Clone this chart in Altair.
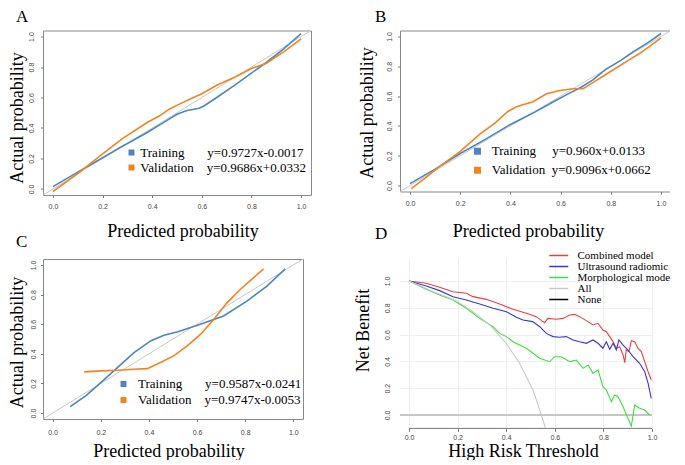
import altair as alt
import pandas as pd

# ---------------- data ----------------
ticks = [0.0, 0.2, 0.4, 0.6, 0.8, 1.0]
diag_vals = [-0.04, 1.04]

# Panel A
A_tr_x = [0.0, 0.1, 0.19, 0.28, 0.38, 0.45, 0.5, 0.54, 0.59, 0.61, 0.66, 0.73, 0.8, 0.86, 0.93, 1.0]
A_tr_y = [0.015, 0.11, 0.195, 0.28, 0.37, 0.44, 0.49, 0.515, 0.53, 0.546, 0.6, 0.678, 0.76, 0.83, 0.92, 1.02]
A_va_x = [0.0, 0.1, 0.19, 0.28, 0.38, 0.43, 0.47, 0.52, 0.56, 0.6, 0.66, 0.73, 0.8, 0.86, 0.93, 1.0]
A_va_y = [-0.017, 0.1, 0.217, 0.33, 0.436, 0.48, 0.525, 0.565, 0.595, 0.625, 0.68, 0.732, 0.79, 0.825, 0.9, 0.985]
A_eq = ["y=0.9727x-0.0017", "y=0.9686x+0.0332"]

# Panel B
B_tr_x = [0.0, 0.1, 0.2, 0.3, 0.4, 0.49, 0.57, 0.63, 0.68, 0.73, 0.78, 0.84, 0.89, 0.95, 1.0]
B_tr_y = [0.013, 0.11, 0.215, 0.31, 0.41, 0.486, 0.56, 0.615, 0.658, 0.71, 0.779, 0.84, 0.898, 0.96, 1.02]
B_va_x = [0.005, 0.06, 0.118, 0.198, 0.278, 0.34, 0.39, 0.424, 0.49, 0.544, 0.597, 0.65, 0.69, 0.73,
          0.78, 0.823, 0.87, 0.916, 0.96, 1.0]
B_va_y = [-0.02, 0.05, 0.128, 0.226, 0.345, 0.42, 0.497, 0.529, 0.562, 0.616, 0.638, 0.649, 0.649, 0.692,
          0.745, 0.79, 0.84, 0.887, 0.94, 0.99]
B_eq = ["y=0.960x+0.0133", "y=0.9096x+0.0662"]

# Panel C
C_tr_x = [0.073, 0.14, 0.2, 0.269, 0.338, 0.407, 0.462, 0.517, 0.614, 0.71, 0.807, 0.89, 0.966]
C_tr_y = [0.043, 0.12, 0.206, 0.307, 0.408, 0.487, 0.525, 0.547, 0.599, 0.655, 0.756, 0.857, 0.973]
C_va_x = [0.131, 0.2, 0.269, 0.338, 0.393, 0.448, 0.503, 0.559, 0.614, 0.669, 0.724, 0.779, 0.834, 0.876]
C_va_y = [0.278, 0.285, 0.289, 0.296, 0.3, 0.341, 0.386, 0.453, 0.531, 0.632, 0.744, 0.834, 0.913, 0.973]
C_eq = ["y=0.9587x-0.0241", "y=0.9747x-0.0053"]

# Panel D (decision curves)
D_series = ["Combined model", "Ultrasound radiomic model", "Morphological model", "All", "None"]
D_comb_x = [0, 0.071, 0.126, 0.181, 0.236, 0.263, 0.318, 0.373, 0.428, 0.483, 0.524, 0.551, 0.558, 0.572,
            0.606, 0.634, 0.661, 0.682, 0.702, 0.73, 0.757, 0.778, 0.798, 0.812, 0.826, 0.84, 0.853, 0.867,
            0.881, 0.888, 0.894, 0.905, 0.915, 0.929, 0.942, 0.956, 0.97, 0.984, 0.997]
D_comb_y = [1.0, 0.983, 0.953, 0.92, 0.908, 0.883, 0.863, 0.828, 0.789, 0.759, 0.734, 0.697, 0.689, 0.721,
            0.714, 0.721, 0.746, 0.751, 0.734, 0.704, 0.672, 0.684, 0.634, 0.622, 0.585, 0.547, 0.498, 0.51,
            0.448, 0.391, 0.485, 0.473, 0.555, 0.547, 0.498, 0.473, 0.398, 0.323, 0.261]
D_us_x = [0, 0.071, 0.126, 0.181, 0.236, 0.291, 0.346, 0.401, 0.442, 0.469, 0.509, 0.538, 0.565, 0.593,
          0.62, 0.647, 0.675, 0.702, 0.73, 0.757, 0.778, 0.798, 0.812, 0.826, 0.84, 0.853, 0.864, 0.881,
          0.901, 0.922, 0.949, 0.97, 0.984, 0.997]
D_us_y = [1.0, 0.963, 0.928, 0.883, 0.858, 0.828, 0.796, 0.771, 0.729, 0.709, 0.697, 0.659, 0.609, 0.585,
          0.58, 0.585, 0.56, 0.547, 0.535, 0.56, 0.535, 0.498, 0.547, 0.49, 0.535, 0.485, 0.56, 0.522,
          0.485, 0.435, 0.386, 0.323, 0.236, 0.124]
D_mo_x = [0, 0.071, 0.126, 0.181, 0.236, 0.291, 0.346, 0.373, 0.401, 0.428, 0.483, 0.538, 0.579, 0.599,
          0.627, 0.661, 0.689, 0.716, 0.737, 0.757, 0.778, 0.798, 0.812, 0.833, 0.846, 0.86, 0.881, 0.901,
          0.915, 0.929, 0.949, 0.97, 0.99]
D_mo_y = [1.0, 0.938, 0.896, 0.858, 0.796, 0.721, 0.659, 0.609, 0.585, 0.547, 0.498, 0.423, 0.398, 0.435,
          0.435, 0.398, 0.41, 0.348, 0.373, 0.311, 0.336, 0.211, 0.187, 0.1, 0.149, 0.137, 0.062, -0.025,
          -0.082, 0.075, 0.05, 0.037, 0.0]
D_all_x = [0, 0.05, 0.1, 0.154, 0.2, 0.263, 0.332, 0.4, 0.455, 0.51, 0.538, 0.561]
D_all_y = [1.0, 0.96, 0.92, 0.883, 0.846, 0.771, 0.672, 0.535, 0.386, 0.187, 0.037, -0.095]
D_none_x = [-0.037, 1.0]
D_none_y = [0.0, 0.0]

# ---------------- styles ----------------
SERIF = "Liberation Serif"
SANS = "Liberation Sans"
BLUE = "#4a86c2"
ORANGE = "#f5821f"
NB = "\u00a0"
D_colors = ["#e8403e", "#3535dc", "#3edc3e", "#c8c8c8", "#000000"]


def calib_panel(letter, tx, ty, vx, vy, eqs, gaps, w, h, lx, ly, row_pad, lab_off,
                xlab_pad, ylab_pad, xt, yt, letter_dx, letter_dy, sym_size, sym_sw):
    df = pd.DataFrame({
        "x": tx + vx,
        "y": ty + vy,
        "series": ["Training"] * len(tx) + ["Validation"] * len(vx),
        "ord": list(range(len(tx))) + list(range(len(vx))),
    })
    dg = pd.DataFrame({"x": diag_vals, "y": diag_vals})
    xs = alt.Scale(domain=[-0.04, 1.04], nice=False, zero=False)
    ys = alt.Scale(domain=[-0.04, 1.04], nice=False, zero=False)
    cs = alt.Scale(domain=["Training", "Validation"], range=[BLUE, ORANGE])
    xaxis = alt.Axis(values=ticks, format=".1f", domain=False, grid=False, tickSize=2.5,
                     tickColor="#777777", labelFont=SANS, labelFontSize=7, labelColor="#444444",
                     labelBaseline="middle", labelAlign="center", labelPadding=xlab_pad,
                     title="Predicted probability", titleFont=SERIF, titleFontSize=18,
                     titleFontWeight="normal", titleColor="black", titleX=xt[0], titleY=xt[1],
                     titleAlign="center", titleBaseline="alphabetic", titleAngle=0)
    yaxis = alt.Axis(values=ticks, format=".1f", domain=False, grid=False, tickSize=2.5,
                     tickColor="#777777", labelFont=SANS, labelFontSize=7, labelColor="#444444",
                     labelAngle=270, labelAlign="center", labelBaseline="middle", labelPadding=ylab_pad,
                     title="Actual probability", titleFont=SERIF, titleFontSize=18,
                     titleFontWeight="normal", titleColor="black", titleX=yt[0], titleY=yt[1],
                     titleAngle=270, titleAlign="center", titleBaseline="alphabetic")
    labs = [f"Training{NB * gaps[0]}{eqs[0]}", f"Validation{NB * gaps[1]}{eqs[1]}"]
    expr = f"datum.label == 'Training' ? '{labs[0]}' : '{labs[1]}'"
    diag = alt.Chart(dg).mark_line(color="#c8c8c8", strokeWidth=1).encode(
        x=alt.X("x:Q", scale=xs, axis=xaxis), y=alt.Y("y:Q", scale=ys, axis=yaxis))
    lines = alt.Chart(df).mark_line(strokeWidth=1.6).encode(
        x=alt.X("x:Q", scale=xs, axis=xaxis),
        y=alt.Y("y:Q", scale=ys, axis=yaxis),
        color=alt.Color("series:N", scale=cs,
                        legend=alt.Legend(title=None, orient="none", legendX=lx, legendY=ly,
                                          symbolType="square", symbolSize=sym_size,
                                          symbolStrokeWidth=sym_sw,
                                          labelFont=SERIF, labelFontSize=13, labelColor="black",
                                          labelOffset=lab_off, rowPadding=row_pad, padding=0,
                                          labelLimit=400, labelExpr=expr)),
        order=alt.Order("ord:Q"),
    )
    return alt.layer(diag, lines).properties(
        width=w, height=h,
        view=alt.ViewBackground(stroke="#8a8a8a", strokeWidth=1),
        title=alt.TitleParams(text=letter, anchor="start", frame="group", orient="top", font=SERIF,
                              fontSize=17, fontWeight="normal", color="black", baseline="alphabetic",
                              dx=letter_dx, dy=letter_dy, offset=0),
    )


A = calib_panel("A", A_tr_x, A_tr_y, A_va_x, A_va_y, A_eq, (7, 4), 268, 164.5,
                82, 115.5, 0, 2.3, 9, 9.2, (139.5, 41.5), (-20.8, 87), -27, 10.5, 9, 3)
B = calib_panel("B", B_tr_x, B_tr_y, B_va_x, B_va_y, B_eq, (5, 2), 271, 161,
                71, 114.25, 0, 7.7, 9.9, 8.2, (128, 45), (-28, 82), -25, 10.5, 12.25, 3.5)
C = calib_panel("C", C_tr_x, C_tr_y, C_va_x, C_va_y, C_eq, (7, 4), 260, 160,
                74, 118.5, 1, 8, 11.1, 7.5, (125.5, 37), (-20.8, 83), -27, 6.5, 9, 3)

# ---------------- panel D ----------------
d_rows = []
for name, xs_, ys_ in [(D_series[0], D_comb_x, D_comb_y), (D_series[1], D_us_x, D_us_y),
                       (D_series[2], D_mo_x, D_mo_y), (D_series[3], D_all_x, D_all_y)]:
    for i, (a, b) in enumerate(zip(xs_, ys_)):
        d_rows.append({"x": a, "y": b, "series": name, "ord": i})
d_df = pd.DataFrame(d_rows)

dxs = alt.Scale(domain=[-0.037, 1.0], nice=False, zero=False)
dys = alt.Scale(domain=[-0.1, 1.164], nice=False, zero=False)
dxaxis = alt.Axis(values=ticks, format=".1f", domain=False, grid=True, gridColor="#efefef",
                  tickSize=3, tickColor="#777777", labelFont=SANS, labelFontSize=7, labelColor="#444444",
                  labelBaseline="middle", labelAlign="center", labelPadding=5.6,
                  title="High Risk Threshold", titleFont=SERIF, titleFontSize=18, titleFontWeight="normal",
                  titleColor="black", titleX=123, titleY=27.6, titleAlign="center",
                  titleBaseline="alphabetic", titleAngle=0)
dyaxis = alt.Axis(values=ticks, format=".1f", domain=False, grid=True, gridColor="#efefef", ticks=False,
                  labelFont=SANS, labelFontSize=7, labelColor="#444444", labelAngle=270,
                  labelAlign="center", labelBaseline="middle", labelPadding=13,
                  title="Net Benefit", titleFont=SERIF, titleFontSize=18, titleFontWeight="normal",
                  titleColor="black", titleX=-32, titleY=71, titleAngle=270, titleAlign="center",
                  titleBaseline="alphabetic")

none_line = alt.Chart(pd.DataFrame({"x": D_none_x, "y": D_none_y})).mark_line(
    color="#c6c6c6", strokeWidth=2).encode(
    x=alt.X("x:Q", scale=dxs, axis=dxaxis), y=alt.Y("y:Q", scale=dys, axis=dyaxis))
axis_line = alt.Chart(pd.DataFrame({"x": [ticks[0]], "x2": [ticks[-1]], "y": [-0.1]})).mark_rule(
    color="#777777", strokeWidth=1).encode(
    x=alt.X("x:Q", scale=dxs, axis=dxaxis), x2="x2:Q", y=alt.Y("y:Q", scale=dys, axis=dyaxis))
curves = alt.Chart(d_df).mark_line(strokeWidth=1.1).encode(
    x=alt.X("x:Q", scale=dxs, axis=dxaxis),
    y=alt.Y("y:Q", scale=dys, axis=dyaxis),
    color=alt.Color("series:N", scale=alt.Scale(domain=D_series, range=D_colors),
                    legend=alt.Legend(title=None, orient="none", legendX=152.75, legendY=-9.5,
                                      symbolType="M-1.9,0H1.9", symbolSize=100, symbolStrokeWidth=1.5,
                                      labelFont=SERIF, labelFontSize=11, labelColor="black",
                                      labelOffset=12.75, rowPadding=0, padding=0, labelLimit=400)),
    order=alt.Order("ord:Q"),
)
D = alt.layer(none_line, axis_line, curves).properties(
    width=252, height=169.4,
    view=alt.ViewBackground(stroke="transparent"),
    title=alt.TitleParams(text="D", anchor="start", frame="group", orient="top", font=SERIF,
                          fontSize=17, fontWeight="normal", color="black", baseline="alphabetic",
                          dx=-25, dy=6.5, offset=0),
)

chart = alt.concat(A, B, C, D, columns=2, spacing={"row": 63.5, "column": 89},
                   bounds="flush", align="each").resolve_scale(
    color="independent").resolve_legend(color="independent").properties(
    padding={"left": -1, "top": -0.5, "right": -30, "bottom": -1},
    background="white",
).configure_view(stroke="transparent")

chart.save("out.html", embed_options={"renderer": "svg", "actions": False})
